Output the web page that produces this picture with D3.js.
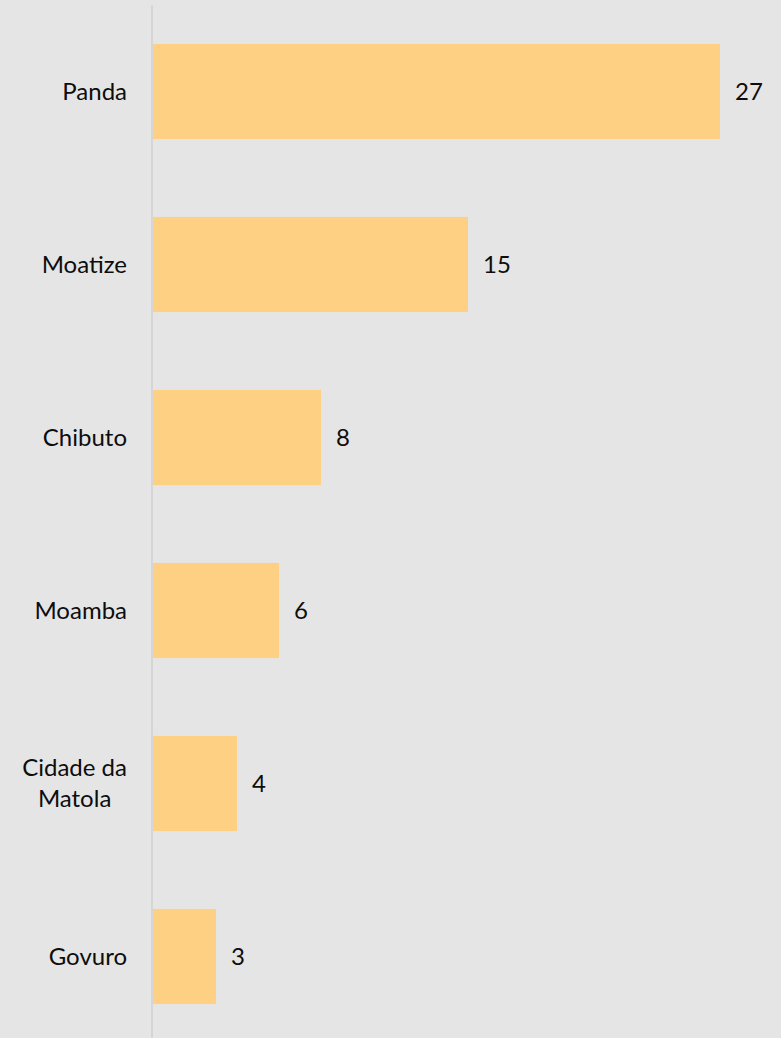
<!DOCTYPE html>
<html>
<head>
<meta charset="utf-8">
<script src="https://cdn.jsdelivr.net/npm/d3@7"></script>
<style>
  html, body { margin: 0; padding: 0; background: #e5e5e5; }
  text { font-family: Lato, "Noto Sans", sans-serif; fill: #0d0d0d; }
</style>
</head>
<body>
<div id="chart"></div>
<script>
// Data
const categories = ["Panda", "Moatize", "Chibuto", "Moamba", "Cidade da Matola", "Govuro"];
const values = [27, 15, 8, 6, 4, 3];
const labelLines = [["Panda"], ["Moatize"], ["Chibuto"], ["Moamba"], ["Cidade da", "Matola"], ["Govuro"]];

const width = 781, height = 1038;
const axisX = 152;
const labelRight = 127;

const svg = d3.select("#chart")
    .append("svg")
    .attr("width", width)
    .attr("height", height);

svg.append("rect")
    .attr("width", width)
    .attr("height", height)
    .attr("fill", "#e5e5e5");

// Scales
const x = d3.scaleLinear()
    .domain([0, 27])
    .range([axisX + 1, axisX + 1 + 567]);

const y = d3.scaleBand()
    .domain(categories)
    .range([5, 1043])
    .paddingInner(0.45)
    .paddingOuter(0.225);

// Vertical axis line
svg.append("line")
    .attr("x1", axisX).attr("x2", axisX)
    .attr("y1", 5).attr("y2", height)
    .attr("stroke", "#d6d6d6")
    .attr("stroke-width", 2);

// Bars
svg.selectAll(".bar")
    .data(categories)
    .enter()
    .append("rect")
    .attr("class", "bar")
    .attr("x", x(0))
    .attr("y", d => y(d))
    .attr("width", (d, i) => x(values[i]) - x(0))
    .attr("height", y.bandwidth())
    .attr("fill", "#fdd084");

// Value labels
svg.selectAll(".value")
    .data(categories)
    .enter()
    .append("text")
    .attr("class", "value")
    .attr("x", (d, i) => x(values[i]) + 15)
    .attr("y", d => y(d) + y.bandwidth() / 2)
    .attr("dy", "0.35em")
    .attr("font-size", "24px")
    .text((d, i) => values[i]);

// Category labels (wrapped labels are centred on their widest line)
const labels = svg.selectAll(".cat")
    .data(categories)
    .enter()
    .append("text")
    .attr("class", "cat")
    .attr("font-size", "24px")
    .attr("y", d => y(d) + y.bandwidth() / 2);

labels.each(function(d, i) {
    const lines = labelLines[i];
    const lh = 31;
    const g = d3.select(this);
    lines.forEach((t, j) => {
        g.append("tspan")
            .attr("y", y(d) + y.bandwidth() / 2 + (j - (lines.length - 1) / 2) * lh)
            .attr("dy", "0.35em")
            .text(t);
    });
    if (lines.length === 1) {
        g.attr("text-anchor", "end").selectAll("tspan").attr("x", labelRight);
    } else {
        let maxW = 0;
        g.selectAll("tspan").each(function() {
            maxW = Math.max(maxW, this.getComputedTextLength());
        });
        g.attr("text-anchor", "middle").selectAll("tspan").attr("x", labelRight - maxW / 2);
    }
});
</script>
</body>
</html>
